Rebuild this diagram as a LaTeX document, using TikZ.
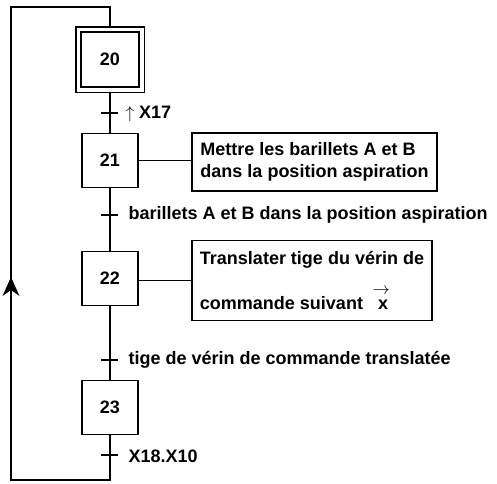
\documentclass[tikz,border=0pt]{standalone}
\usepackage{fontspec}
\setmainfont{Liberation Sans}
\usetikzlibrary{fit}
\begin{document}
\begin{tikzpicture}[x=1pt,y=-1pt,line width=1.1pt,
  font=\fontsize{18}{22}\selectfont\bfseries,
  stepbox/.style={draw,minimum width=56pt,minimum height=54pt,inner sep=0pt},
  actbox/.style={draw,align=left,inner sep=0pt},
  lbl/.style={anchor=west,inner sep=0pt}]
\useasboundingbox (0,0) rectangle (497,483);
% steps
\node[stepbox,minimum width=58pt,minimum height=55pt] (s20) at (110,59.5) {20};
\node[draw,fit=(s20),inner sep=4.5pt] (s20o) {};
\node[stepbox] (s21) at (110,160.5) {21};
\node[stepbox] (s22) at (110,278.5) {22};
\node[stepbox] (s23) at (110,407.5) {23};
% actions
\node[actbox,minimum width=245pt,minimum height=58pt] (a1) at (314.5,162)
  {Mettre les barillets A et B\\dans la position aspiration};
\node[actbox,minimum width=240pt,minimum height=80pt] (a2) at (312,280.5)
  {Translater tige du vérin de\\[23pt]commande suivant\ \ \ x\makebox[0pt][r]{\raisebox{15pt}[0pt][0pt]{\mdseries\fontsize{16}{16}\selectfont$\rightarrow$\hspace{-2pt}}}};
\draw (s21.east) -- (s21.east -| a1.west);
\draw (s22.east |- a2.west) -- (a2.west);
% links
\draw (s20o.south) -- (s21.north);
\draw (s21.south) -- (s22.north);
\draw (s22.south) -- (s23.north);
% transitions
\coordinate (t1) at (110,113);
\coordinate (t2) at (110,215);
\coordinate (t3) at (110,360);
\coordinate (t4) at (110,455);
\foreach \t in {t1,t2,t3,t4}{\draw ([xshift=-9pt]\t) -- ([xshift=8pt]\t);}
\node[lbl] (l1) at (125,114) {\mdseries$\uparrow$\ \bfseries X17};
\node[lbl] (l2) at (128,215) {barillets A et B dans la position aspiration};
\node[lbl] (l3) at (128,360) {tige de vérin de commande translatée};
\node[lbl] (l4) at (128,456) {X18.X10};
% loop
\coordinate (bl) at (11,480);
\coordinate (tl) at (11,7);
\draw (s23.south) |- (bl) -- (tl) -| (s20o.north);
\fill (11,277) -- (19.5,296) -- (11,290) -- (2.5,296) -- cycle;
\end{tikzpicture}
\end{document}
